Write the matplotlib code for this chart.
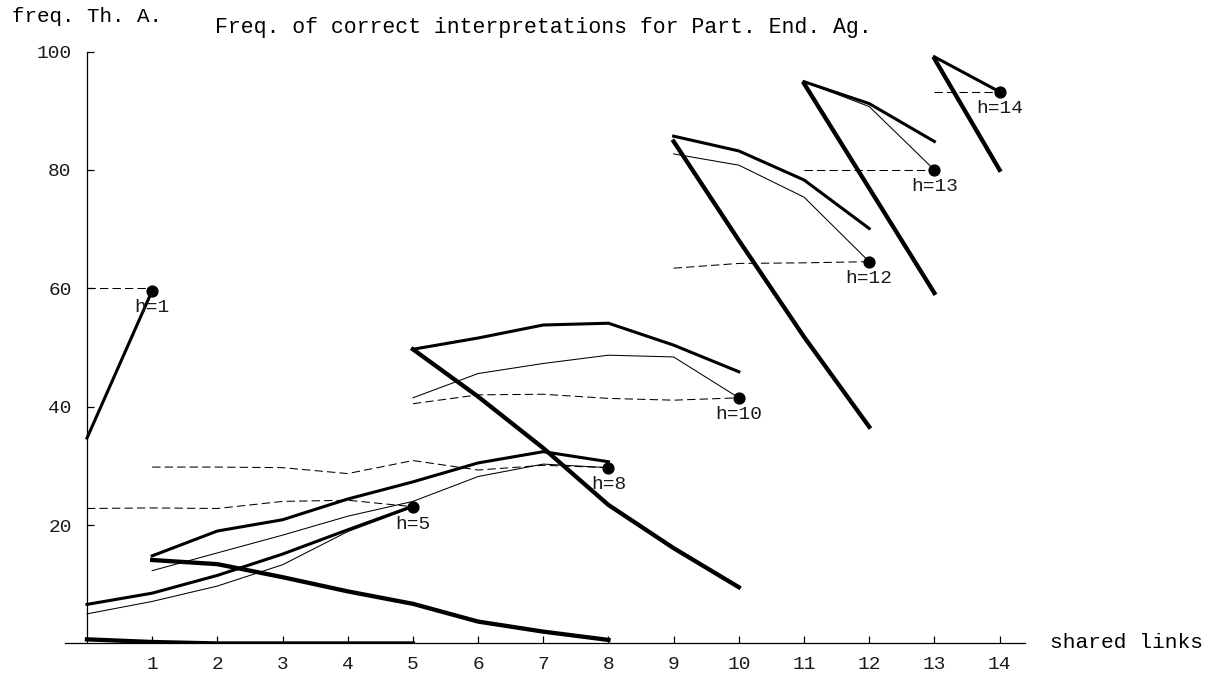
import matplotlib
matplotlib.use("Agg")
import matplotlib.pyplot as plt

plt.rcParams['font.family'] = ['Liberation Mono', 'DejaVu Sans Mono']

# horizon values shown as labels
horizons = [1, 5, 8, 10, 12, 13, 14]

# shared links (x positions) for each horizon
links_h1 = [0, 1]
links_h5 = [0, 1, 2, 3, 4, 5]
links_h8 = [1, 2, 3, 4, 5, 6, 7, 8]
links_h10 = [5, 6, 7, 8, 9, 10]
links_h12 = [9, 10, 11, 12]
links_h13 = [11, 12, 13]
links_h14 = [13, 14]

# upper curve (thick)
upper_h1 = [34.7, 59.6]
upper_h5 = [6.6, 8.5, 11.5, 15.1, 19.2, 23.2]
upper_h8 = [14.8, 19.0, 20.9, 24.4, 27.3, 30.5, 32.4, 30.7]
upper_h10 = [49.7, 51.6, 53.8, 54.1, 50.4, 45.9]
upper_h12 = [85.7, 83.2, 78.3, 70.1]
upper_h13 = [94.9, 91.2, 84.8]
upper_h14 = [99.1, 93.2]

# correct interpretations (thin, ends in a dot)
correct_h1 = [34.7, 59.6]
correct_h5 = [5.0, 7.1, 9.7, 13.3, 18.9, 23.0]
correct_h8 = [12.3, 15.3, 18.3, 21.5, 24.0, 28.2, 30.3, 29.7]
correct_h10 = [41.5, 45.6, 47.3, 48.7, 48.4, 41.5]
correct_h12 = [82.7, 80.8, 75.4, 64.5]
correct_h13 = [94.9, 90.7, 80.0]
correct_h14 = [99.1, 93.2]

# reference level (dashed)
reference_h1 = [60.0, 60.0]
reference_h5 = [22.8, 22.9, 22.8, 24.0, 24.2, 23.1]
reference_h8 = [29.8, 29.8, 29.7, 28.7, 30.9, 29.3, 30.1, 29.7]
reference_h10 = [40.5, 42.0, 42.1, 41.4, 41.1, 41.5]
reference_h12 = [63.4, 64.2, 64.3, 64.5]
reference_h13 = [80.0, 80.0, 80.0]
reference_h14 = [93.2, 93.2]

# lower curve (heaviest)
lower_h1 = None
lower_h5 = [0.7, 0.25, 0.0, 0.0, 0.0, 0.0]
lower_h8 = [14.1, 13.4, 11.2, 8.8, 6.7, 3.7, 2.0, 0.6]
lower_h10 = [49.7, 41.7, 33.0, 23.4, 16.1, 9.5]
lower_h12 = [84.8, 68.1, 51.8, 36.6]
lower_h13 = [94.6, 76.9, 59.2]
lower_h14 = [98.8, 80.0]

x_ticks = list(range(1, 15))
y_ticks = [20, 40, 60, 80, 100]

groups = [
    (1, links_h1, upper_h1, correct_h1, reference_h1, lower_h1),
    (5, links_h5, upper_h5, correct_h5, reference_h5, lower_h5),
    (8, links_h8, upper_h8, correct_h8, reference_h8, lower_h8),
    (10, links_h10, upper_h10, correct_h10, reference_h10, lower_h10),
    (12, links_h12, upper_h12, correct_h12, reference_h12, lower_h12),
    (13, links_h13, upper_h13, correct_h13, reference_h13, lower_h13),
    (14, links_h14, upper_h14, correct_h14, reference_h14, lower_h14),
]

fig = plt.figure(figsize=(12.11, 6.75), dpi=100)
ax = fig.add_axes([0.0537, 0.0467, 0.7927, 0.877])

for h, xs, up, cor, ref, low in groups:
    ax.plot(xs, ref, color='black', lw=0.75, dashes=(8, 4), solid_capstyle='butt')
    ax.plot(xs, cor, color='black', lw=0.75)
    ax.plot(xs, up, color='black', lw=2.2)
    if low is not None:
        ax.plot(xs, low, color='black', lw=3.1)
    ax.plot(xs[-1], cor[-1], 'o', color='black', ms=7.8)
    ax.annotate(f'h={h}', (xs[-1], cor[-1]), xytext=(0, -17),
                textcoords='offset pixels', ha='center', va='center',
                fontsize=14, color='#1a1a1a')

ax.set_xlim(-0.337, 14.39)
ax.set_ylim(0, 100)
for s in ('top', 'right'):
    ax.spines[s].set_visible(False)
ax.spines['left'].set_position(('data', 0))
ax.spines['left'].set_linewidth(0.9)
ax.spines['bottom'].set_linewidth(0.9)

ax.set_xticks(x_ticks)
ax.set_yticks(y_ticks)
ax.set_xticklabels([str(t) for t in x_ticks])
ax.set_yticklabels([str(t) for t in y_ticks])
ax.tick_params(axis='both', direction='in', length=5, width=0.9,
               labelsize=14, labelcolor='#1a1a1a')
ax.tick_params(axis='x', pad=9)
ax.tick_params(axis='y', pad=11)

fig.text(12 / 1211, 1 - 17 / 675, 'freq. Th. A.', fontsize=15, ha='left', va='center')
fig.text(543 / 1211, 1 - 28 / 675,
         'Freq. of correct interpretations for Part. End. Ag.',
         fontsize=15.5, ha='center', va='center')
fig.text(1050 / 1211, 1 - 642 / 675, 'shared links', fontsize=15.3, ha='left', va='center')

fig.savefig('out.png', dpi=100)
